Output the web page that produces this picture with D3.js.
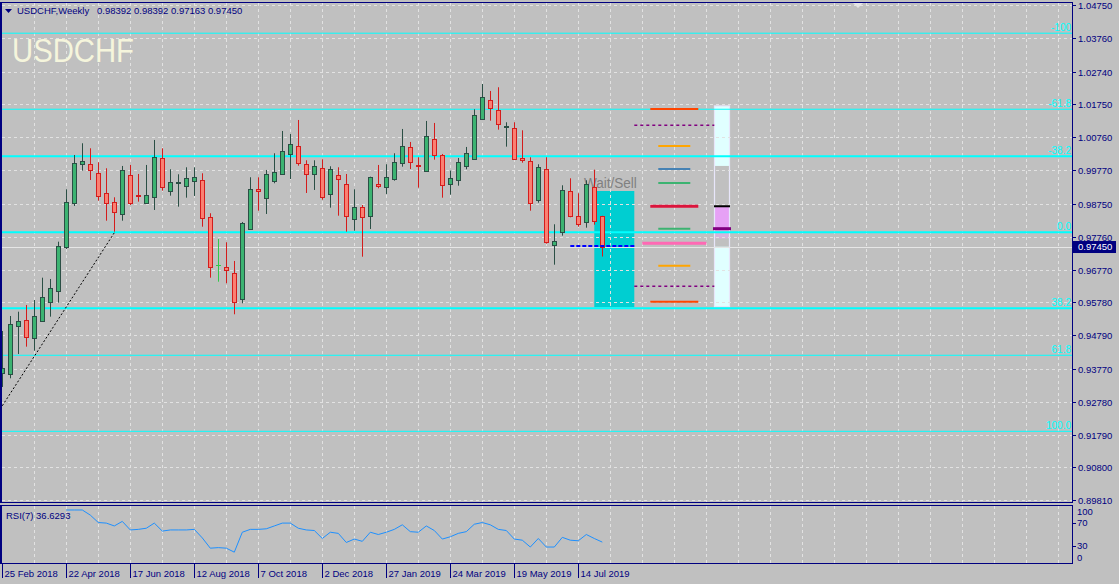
<!DOCTYPE html>
<html><head><meta charset="utf-8">
<script src="https://cdn.jsdelivr.net/npm/d3@7"></script>
<style>html,body{margin:0;padding:0;background:#c0c0c0;} svg{display:block;}</style>
</head><body><svg id="c" width="1119" height="584"></svg>
<script>
// ---------------- DATA ----------------
const symbolTitle = "USDCHF,Weekly";
const headerValues = "0.98392 0.98392 0.97163 0.97450";
const bigTitle = "USDCHF";
const open = [0.93641,0.93611,0.95059,0.95249,0.94697,0.95210,0.95801,0.96133,0.97442,0.98769,
0.99964,0.99955,0.99674,0.99071,0.98799,0.98437,0.99623,0.99011,0.98769,0.98950,
1.00127,0.99149,0.99391,0.99300,0.99451,0.99472,0.98347,0.96908,0.96839,0.96658,
0.95873,0.98003,0.99192,0.98938,0.99451,0.99662,1.00266,1.00489,0.99946,0.99644,
0.99825,0.99059,0.99614,0.99342,0.98305,0.98649,0.98395,0.99342,0.99270,0.99493,
0.99994,1.00459,0.99916,0.99735,1.00700,1.00217,0.99342,0.99463,0.99885,1.00115,
1.01321,1.01876,1.01575,1.01062,1.01032,1.00127,1.00036,0.98878,0.99795,0.97521,
0.97895,0.99131,0.98377,0.98196,0.99252,0.98392];
const high = [0.94917,0.95370,0.95499,0.95701,0.95852,0.96525,0.96486,0.97611,0.99192,1.00226,
1.00579,1.00428,1.00006,0.99825,0.98950,0.99895,0.99925,0.99653,0.99925,1.00679,
1.00428,0.99795,0.99644,0.99855,0.99855,0.99674,0.98468,0.97692,0.97593,0.97029,
0.98205,0.99554,0.99554,0.99774,1.00278,1.00950,1.00860,1.01282,1.00066,1.00066,
1.00097,0.99885,0.99855,0.99653,0.99192,0.98718,0.99572,0.99925,0.99946,1.00278,
1.01011,1.00619,1.00157,1.01252,1.01192,1.00257,0.99753,1.00136,1.00468,1.01605,
1.02368,1.02157,1.02269,1.01213,1.01213,1.00971,1.00157,0.99946,1.00157,0.98136,
0.99312,0.99523,0.99071,0.99463,0.99783,0.98392];
const low = [0.93228,0.93490,0.94223,0.94444,0.94323,0.95198,0.95349,0.95771,0.97391,0.98688,
0.99753,0.99472,0.98848,0.98244,0.97913,0.98244,0.98718,0.98818,0.98748,0.98567,
0.99149,0.98999,0.98667,0.98938,0.98990,0.98063,0.96525,0.96404,0.96356,0.95421,
0.95753,0.97964,0.98546,0.98447,0.99373,0.99623,0.99502,0.99904,0.99080,0.99171,
0.98878,0.98637,0.98395,0.97913,0.97943,0.97158,0.97994,0.99222,0.99050,0.99451,
0.99873,0.99804,0.99240,0.99735,1.00085,0.98938,0.99029,0.99300,0.99795,1.00085,
1.01291,1.01261,1.00990,1.00477,1.00076,0.99994,0.98546,0.98787,0.97551,0.96917,
0.97792,0.98347,0.98063,0.98033,0.98124,0.97163];
const close = [0.93810,0.95128,0.95219,0.94727,0.95370,0.95934,0.96205,0.97472,0.98809,0.99976,
1.00045,0.99774,0.98980,0.98769,0.98507,0.99765,0.98769,0.98980,0.99011,1.00157,
0.99252,0.99421,0.99421,0.99523,0.99554,0.98335,0.96857,0.96908,0.96748,0.95801,
0.98166,0.99192,0.99149,0.99644,0.99704,1.00338,1.00549,0.99976,0.99662,0.99885,
0.98968,0.99795,0.99511,0.98395,0.98649,0.98365,0.99554,0.99300,0.99554,1.00006,
1.00489,1.00024,0.99885,1.00790,1.00217,0.99312,0.99523,1.00006,1.00278,1.01424,
1.01967,1.01635,1.01152,1.01092,1.00097,1.00066,0.98769,0.99855,0.97611,0.97623,
0.99161,0.98395,0.98154,0.99342,0.98226,0.97450];
const rsiValues = [null,null,null,null,null,null,null,null,
93,93,93,84,71,70,65,73,58,59,61,70,56,58,58,58,59,44,26,27,26,19,54,59,59,60,65,70,
70,61,58,57,43,54,52,36,42,38,54,50,54,59,67,55,54,65,57,42,46,52,55,68,71,67,59,57,
42,40,28,43,28,28,45,40,39,50,43,36.6293];
const rsiLabel = "RSI(7) 36.6293";
const timeLabels = ["25 Feb 2018","22 Apr 2018","17 Jun 2018","12 Aug 2018","7 Oct 2018",
"2 Dec 2018","27 Jan 2019","24 Mar 2019","19 May 2019","14 Jul 2019"];
const timeLabelBars = [0,8,16,24,32,40,48,56,64,72];
const priceTicks = [1.04750,1.03760,1.02740,1.01750,1.00760,0.99770,0.98750,0.97760,
0.96770,0.95780,0.94790,0.93770,0.92780,0.91790,0.90800,0.89810];
const rsiTicks = [100,70,30,0];
const lastPrice = 0.97450;
// Fibonacci
const fibLevels = [-100,-61.8,-38.2,0,38.2,61.8,100];
const fibLabels = ["-100","-61.8","-38.2","0.0","38.2","61.8","100.0"];
const fibPrice0 = 0.97895, fibPrice100 = 0.91891;
// trend line (bar index, price)
const trendBars = [0,14];
const trendPrices = [0.92661,0.97880];
// zone rectangle "Wait/Sell"
const zoneBars = [74,79];
const zonePrices = [0.99140,0.95630];
const zoneText = "Wait/Sell";
const zoneTextBar = 72.7, zoneTextPrice = 0.99231;
// dashed entry line
const entryBars = [71,79];
const entryPrice = 0.97480;
// right-side level lines
const levelPrices = [1.01614,1.01122,1.00498,0.99804,0.99382,0.98679,0.98003,0.97563,0.96887,0.96266,0.95801];
const levelStartBars = [81,79,82,82,82,81,82,80,82,79,81];
const levelEndBars = [87,89,86,86,86,87,86,88,86,89,87];
// gauge column (bar range, price bands from top to bottom)
const gaugeBars = [89,91];
const gaugeBandPrices = [1.01705,0.99895,0.98679,0.98003,0.97701,0.97460,0.95650];
const gaugeMarkPrices = [0.98679,0.98003];

// ---------------- STYLES ----------------
const levelColors = ["#ff4500","#800080","#ffa500","#4682b4","#3cb371","#dc143c","#3cb371","#ff69b4","#ffa500","#800080","#ff4500"];
const levelWidths = [2,1.5,2,2,2,3,2,3,2,1.5,2];
const levelDash = [null,"3,3",null,null,null,null,null,null,null,"3,3",null];
const gaugeBandColors = ["#e0ffff","#c0c0c0","#e6a1f5","#d6b4dc","#c0c0c0","#e0ffff"];
const NAVY = "#000080";
const FONT = "Liberation Sans, Arial, sans-serif";

// ---------------- SCALES ----------------
const svg = d3.select("#c");
const W = 1119, H = 584;
const L = 2, R = 1072, T = 3, B = 502;
const RT = 506, RB = 563;
const xs = d3.scaleLinear().domain([0,1]).range([2.3,10.3]);
const ys = d3.scaleLinear().domain([0.89810,1.04750]).range([500.3,5]);
const yr = d3.scaleLinear().domain([0,100]).range([RB,RT]);
const px = k => Math.round(xs(k)) + 0.5;
const py = p => Math.round(ys(p)) + 0.5;
const fibPrice = l => fibPrice0 - l/100*(fibPrice0 - fibPrice100);

svg.append("rect").attr("width",W).attr("height",H).attr("fill","#c0c0c0");

const defs = svg.append("defs");
defs.append("clipPath").attr("id","mainClip").append("rect").attr("x",L).attr("y",T).attr("width",R-L).attr("height",B-T);
defs.append("clipPath").attr("id","rsiClip").append("rect").attr("x",L).attr("y",RT).attr("width",R-L).attr("height",RB-RT);

const main = svg.append("g").attr("clip-path","url(#mainClip)");

// background objects
main.append("rect")
  .attr("x",xs(zoneBars[0])).attr("width",xs(zoneBars[1])-xs(zoneBars[0]))
  .attr("y",ys(zonePrices[0])).attr("height",ys(zonePrices[1])-ys(zonePrices[0]))
  .attr("fill","#00ced1");

const gx0 = Math.round(xs(gaugeBars[0])), gx1 = Math.round(xs(gaugeBars[1]));
for (let i=0;i<gaugeBandColors.length;i++){
  main.append("rect").attr("x",gx0).attr("width",gx1-gx0)
    .attr("y",ys(gaugeBandPrices[i])).attr("height",ys(gaugeBandPrices[i+1])-ys(gaugeBandPrices[i]))
    .attr("fill",gaugeBandColors[i]);
}
main.append("rect").attr("x",gx0+0.5).attr("width",gx1-gx0-1)
  .attr("y",ys(gaugeBandPrices[0])).attr("height",ys(gaugeBandPrices[6])-ys(gaugeBandPrices[0]))
  .attr("fill","none").attr("stroke","#e8e6fa").attr("stroke-width",1.2);

// grid
const grid = main.append("g").attr("stroke","#e2e2e2").attr("stroke-width",1).attr("stroke-dasharray","3,3");
priceTicks.forEach(t=>{
  grid.append("line").attr("x1",L).attr("x2",R).attr("y1",py(t)).attr("y2",py(t));
});
for (let k=4; xs(k)<R; k+=4){
  grid.append("line").attr("x1",px(k)).attr("x2",px(k)).attr("y1",T).attr("y2",B);
}

// fib lines
fibLevels.forEach((l,i)=>{
  const y = ys(fibPrice(l));
  const thick = Math.abs(l)===38.2 || l===0;
  main.append("line").attr("x1",L).attr("x2",R).attr("y1",y).attr("y2",y)
    .attr("stroke","#00ffff").attr("stroke-width",thick?2:1);
  main.append("text").attr("x",R-1).attr("y",y-2).attr("text-anchor","end")
    .attr("font-family",FONT).attr("font-size",10).attr("fill","#00ffff").text(fibLabels[i]);
});

// bid line
main.append("line").attr("x1",L).attr("x2",R).attr("y1",py(lastPrice)).attr("y2",py(lastPrice))
  .attr("stroke","#e6e6e6").attr("stroke-width",1);

// trend line
main.append("line").attr("x1",xs(trendBars[0])).attr("y1",ys(trendPrices[0]))
  .attr("x2",xs(trendBars[1])).attr("y2",ys(trendPrices[1]))
  .attr("stroke","#000").attr("stroke-width",1).attr("stroke-dasharray","2,2");

// zone text
main.append("text").attr("x",xs(zoneTextBar)).attr("y",ys(zoneTextPrice))
  .attr("font-family",FONT).attr("font-size",14).attr("fill","#808080")
  .attr("textLength",53).attr("lengthAdjust","spacingAndGlyphs").text(zoneText);

// candles
const cg = main.append("g");
open.forEach((o,k)=>{
  const c = close[k], h = high[k], l = low[k];
  const x = px(k);
  if (o===c){
    cg.append("line").attr("x1",x).attr("x2",x).attr("y1",ys(h)).attr("y2",ys(l)).attr("stroke","#32c848");
    cg.append("line").attr("x1",x-2.5).attr("x2",x+2.5).attr("y1",py(o)).attr("y2",py(o)).attr("stroke","#32c848");
    return;
  }
  const bull = c>o;
  const stroke = bull ? "#2b4f45" : "#d41c1c";
  const fill = bull ? "#3cb371" : "#fa8072";
  cg.append("line").attr("x1",x).attr("x2",x).attr("y1",ys(h)).attr("y2",ys(l)).attr("stroke",stroke);
  const yt = py(Math.max(o,c)), yb = py(Math.min(o,c));
  cg.append("rect").attr("x",x-2).attr("width",4).attr("y",yt).attr("height",Math.max(1,yb-yt))
    .attr("fill",fill).attr("stroke",stroke).attr("stroke-width",1);
});

// level lines
levelPrices.forEach((p,i)=>{
  const ln = main.append("line").attr("x1",xs(levelStartBars[i])).attr("x2",xs(levelEndBars[i]))
    .attr("y1",ys(p)).attr("y2",ys(p)).attr("stroke",levelColors[i]).attr("stroke-width",levelWidths[i]);
  if (levelDash[i]) ln.attr("stroke-dasharray",levelDash[i]);
});
// gauge markers
main.append("line").attr("x1",gx0).attr("x2",gx1).attr("y1",ys(gaugeMarkPrices[0])).attr("y2",ys(gaugeMarkPrices[0]))
  .attr("stroke","#000").attr("stroke-width",2);
main.append("line").attr("x1",gx0-1).attr("x2",gx1+1).attr("y1",ys(gaugeMarkPrices[1])).attr("y2",ys(gaugeMarkPrices[1]))
  .attr("stroke","#800080").attr("stroke-width",3);
// entry dashed line
main.append("line").attr("x1",xs(entryBars[0])).attr("x2",xs(entryBars[1]))
  .attr("y1",ys(entryPrice)).attr("y2",ys(entryPrice))
  .attr("stroke","#0000ff").attr("stroke-width",2).attr("stroke-dasharray","4,2");

// big title and header
svg.append("text").attr("x",12).attr("y",61.5).attr("font-family",FONT).attr("font-size",33)
  .attr("fill","#f5f5dc").attr("textLength",122).attr("lengthAdjust","spacingAndGlyphs").text(bigTitle);
svg.append("path").attr("d","M5,9 L12,9 L8.5,13 Z").attr("fill",NAVY);
svg.append("text").attr("x",17).attr("y",13.5).attr("font-family",FONT).attr("font-size",9.5)
  .attr("fill",NAVY).text(symbolTitle);
svg.append("text").attr("x",97).attr("y",13.5).attr("font-family",FONT).attr("font-size",9.5)
  .attr("fill",NAVY).text(headerValues);
// chart shift marker
svg.append("path").attr("d","M853,3 L863,3 L858,8 Z").attr("fill","#e4e4e4");

// main frame
svg.append("rect").attr("x",L-0.5).attr("y",T-0.5).attr("width",R-L+1).attr("height",B-T+1)
  .attr("fill","none").attr("stroke",NAVY).attr("stroke-width",1);
svg.append("line").attr("x1",1).attr("x2",1).attr("y1",T-1).attr("y2",B+1).attr("stroke",NAVY).attr("stroke-width",2);

// price axis
const pa = svg.append("g");
priceTicks.forEach(t=>{
  const y = py(t);
  pa.append("line").attr("x1",R).attr("x2",R+4).attr("y1",y).attr("y2",y).attr("stroke",NAVY);
  pa.append("text").attr("x",1078).attr("y",y).attr("dy","0.35em").attr("font-family",FONT)
    .attr("font-size",9.5).attr("fill",NAVY).text(d3.format(".5f")(t));
});
pa.append("rect").attr("x",1073).attr("y",ys(lastPrice)-6).attr("width",43).attr("height",12).attr("fill",NAVY);
pa.append("text").attr("x",1078).attr("y",ys(lastPrice)).attr("dy","0.35em").attr("font-family",FONT)
  .attr("font-size",9.5).attr("fill","#ffffff").text(d3.format(".5f")(lastPrice));

// ---------------- RSI PANEL ----------------
const rg = svg.append("g").attr("clip-path","url(#rsiClip)");
const rgrid = rg.append("g").attr("stroke","#e2e2e2").attr("stroke-dasharray","3,3");
for (let k=4; xs(k)<R; k+=4){
  rgrid.append("line").attr("x1",px(k)).attr("x2",px(k)).attr("y1",RT).attr("y2",RB);
}
const rline = d3.line().defined(d=>d!=null).x((d,i)=>xs(i)).y(d=>yr(d));
rg.append("path").attr("d",rline(rsiValues)).attr("fill","none").attr("stroke","#1e90ff").attr("stroke-width",1);
svg.append("text").attr("x",6).attr("y",518.5).attr("font-family",FONT).attr("font-size",9.5)
  .attr("fill",NAVY).text(rsiLabel);
svg.append("rect").attr("x",L-0.5).attr("y",RT-0.5).attr("width",R-L+1).attr("height",RB-RT+1)
  .attr("fill","none").attr("stroke",NAVY).attr("stroke-width",1);
svg.append("line").attr("x1",1).attr("x2",1).attr("y1",RT-1).attr("y2",RB+1).attr("stroke",NAVY).attr("stroke-width",2);
rsiTicks.forEach(v=>{
  const yy = Math.round(yr(v))+0.5;
  if (v!==0 && v!==100) svg.append("line").attr("x1",R).attr("x2",R+4).attr("y1",yy).attr("y2",yy).attr("stroke",NAVY);
  const yl = Math.min(Math.max(yr(v),RT+6),RB-5.5);
  svg.append("text").attr("x",1077).attr("y",yl).attr("dy","0.35em").attr("font-family",FONT)
    .attr("font-size",9.5).attr("fill",NAVY).text(v);
});

// time axis
timeLabels.forEach((t,i)=>{
  const x = px(timeLabelBars[i]);
  svg.append("line").attr("x1",x).attr("x2",x).attr("y1",RB+1).attr("y2",578).attr("stroke",NAVY);
  svg.append("text").attr("x",x+2).attr("y",577).attr("font-family",FONT).attr("font-size",9.5)
    .attr("fill",NAVY).text(t);
});
</script>
</body></html>
